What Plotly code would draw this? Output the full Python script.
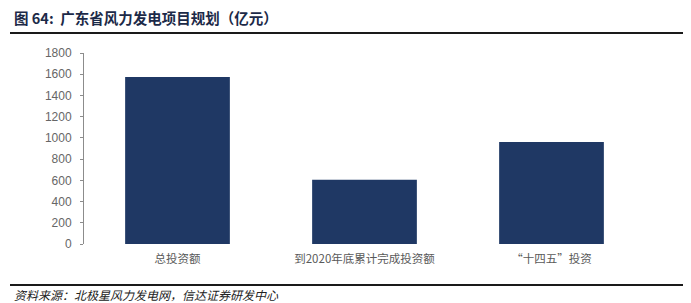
import plotly.graph_objects as go

categories = ["总投资额", "到2020年底累计完成投资额", "“十四五”投资"]
values = [1575, 605, 962]
y_ticks = [0, 200, 400, 600, 800, 1000, 1200, 1400, 1600, 1800]

title_text = "图 64:  广东省风力发电项目规划（亿元）"
source_text = "资料来源：北极星风力发电网，信达证券研发中心"

W, H = 691, 303
fig = go.Figure()
fig.add_trace(go.Bar(
    x=categories, y=values,
    marker=dict(color="#1F3864", line=dict(width=0)),
))

fig.update_layout(
    width=W, height=H,
    margin=dict(l=84, r=46, t=53, b=59),
    paper_bgcolor="white", plot_bgcolor="white",
    bargap=0.44,
    showlegend=False,
    font=dict(family="Noto Sans CJK SC, Liberation Sans, sans-serif"),
)
fig.update_yaxes(
    range=[0, 1800], tickvals=y_ticks, showgrid=False, zeroline=False,
    showline=True, linecolor="#8c8c8c", linewidth=1,
    ticks="outside", ticklen=3, tickcolor="#8c8c8c",
    tickfont=dict(family="Liberation Sans, Arial, sans-serif", size=12, color="#666666"),
    ticklabelstandoff=6,
)
fig.update_xaxes(
    showgrid=False, zeroline=False, showline=False, ticks="",
    tickfont=dict(family="Noto Sans CJK SC, sans-serif", size=11.5, color="#595959"),
    ticklabelstandoff=6,
)

def px_x(p):
    return (p - 84) / (W - 84 - 46)

def px_y(p):
    return (244 - p) / (244 - 53)

fig.add_annotation(text="<b>" + title_text + "</b>", xref="paper", yref="paper",
                   x=px_x(12), y=px_y(18),
                   xanchor="left", yanchor="middle", showarrow=False,
                   font=dict(size=14.5, color="#1c2a48", family="Noto Sans CJK SC, sans-serif"))
fig.add_annotation(text="<i>" + source_text + "</i>", xref="paper", yref="paper",
                   x=px_x(12), y=px_y(294.5),
                   xanchor="left", yanchor="middle", showarrow=False,
                   font=dict(size=12, color="#222222", family="Noto Sans CJK SC, sans-serif"))

for yy in (33, 285):
    fig.add_shape(type="line", xref="paper", yref="paper",
                  x0=px_x(10), x1=px_x(683), y0=px_y(yy), y1=px_y(yy),
                  line=dict(color="#1a1a1a", width=2))

fig.write_html("out.html")
